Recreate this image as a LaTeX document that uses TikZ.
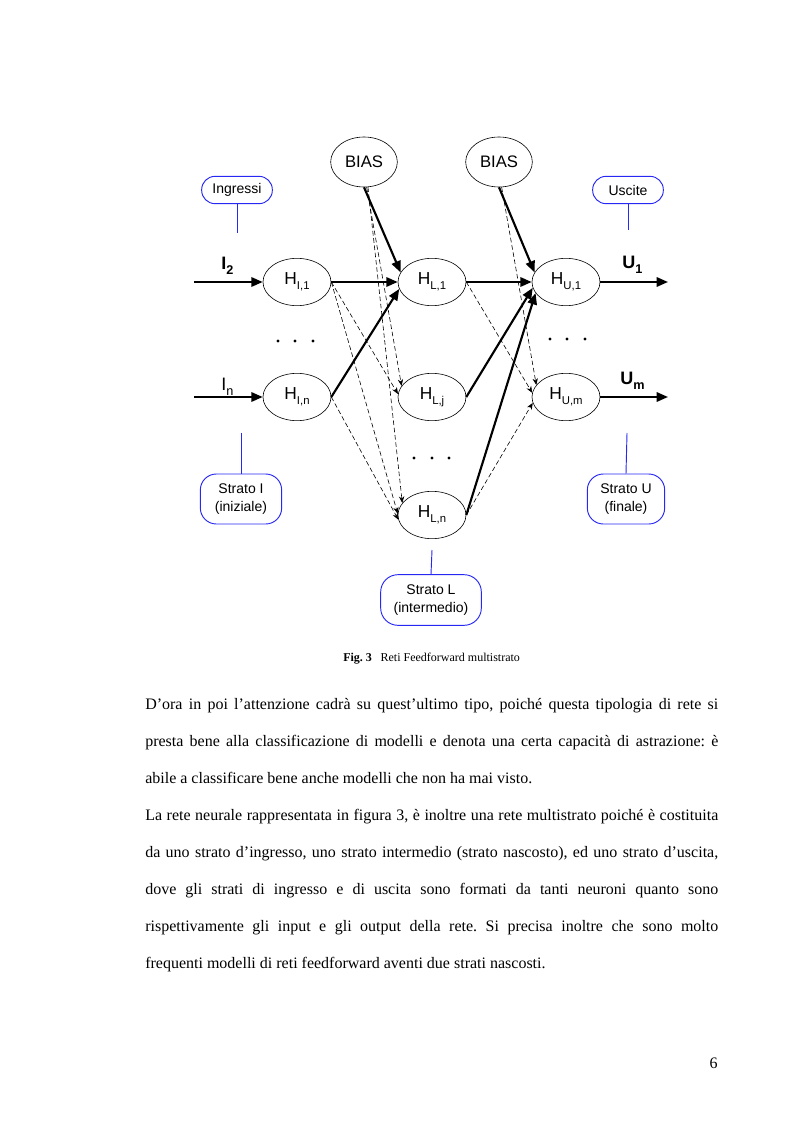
\documentclass[tikz,border=0pt]{standalone}
\usepackage{fontspec}
\setmainfont{Liberation Serif}
\setsansfont{Liberation Sans}
\usetikzlibrary{arrows.meta,shapes.geometric}
\definecolor{lblue}{RGB}{40,40,245}
\frenchspacing
\newcommand\hsub[1]{\raisebox{-0.55ex}{\fontsize{8.5}{8.5}\selectfont #1}}
\newcommand\bodyline[1]{\makebox[429.75pt][s]{#1}}
\begin{document}
\begin{tikzpicture}[x=0.75pt,y=-0.75pt,
 neuron/.style={draw,ellipse,line width=0.45pt,minimum width=51pt,minimum height=35.5pt,inner sep=0pt,font=\sffamily\fontsize{13}{14}\selectfont},
 biasnode/.style={neuron,minimum width=50pt,minimum height=37.5pt,font=\sffamily\fontsize{12.5}{14}\selectfont},
 tag/.style={draw=lblue,line width=0.7pt,align=center,inner sep=0pt,font=\sffamily\fontsize{10.5}{13}\selectfont},
 tagline/.style={draw=lblue,line width=0.7pt},
 strong/.style={line width=1.6pt,-{Triangle[length=8.5pt,width=7pt]}},
 weak/.style={line width=0.45pt,dash pattern=on 3.5pt off 2pt,-{Stealth[length=5pt,width=4pt]}},
 iolbl/.style={font=\sffamily\fontsize{13.5}{14}\selectfont,inner sep=0pt,anchor=base west},
 body/.style={font=\fontsize{12}{14}\selectfont,inner sep=0pt,anchor=base west},
]
\path[use as bounding box,fill=white] (0,0) rectangle (793,1123);

% neurons
\node[neuron] (hi1) at (297,282) {H\hsub{I,1}};
\node[neuron] (hin) at (297,397) {H\hsub{I,n}};
\node[neuron] (hl1) at (432,282) {H\hsub{L,1}};
\node[neuron] (hlj) at (432,397) {H\hsub{L,j}};
\node[neuron] (hln) at (432,515) {H\hsub{L,n}};
\node[neuron] (hu1) at (566,282) {H\hsub{U,1}};
\node[neuron] (hum) at (566,397) {H\hsub{U,m}};
\node[biasnode] (bias1) at (364,162) {BIAS};
\node[biasnode] (bias2) at (499,162) {BIAS};

% dots
\foreach \x in {278,295,313} \fill (\x,341) circle (1.3pt);
\foreach \x in {550,567,585} \fill (\x,339) circle (1.3pt);
\foreach \x in {414,432,449} \fill (\x,458) circle (1.3pt);

% labels of inputs / outputs
\node[iolbl] (li2) at (221,269) {\textbf{I}\raisebox{-0.55ex}{\fontsize{9.5}{10}\selectfont\bfseries 2}};
\node[iolbl] (lin) at (221,390) {I\raisebox{-0.55ex}{\fontsize{9.5}{10}\selectfont n}};
\node[iolbl] (lu1) at (622,268) {\textbf{U}\raisebox{-0.55ex}{\fontsize{9.5}{10}\selectfont\bfseries 1}};
\node[iolbl] (lum) at (620,384) {\textbf{U}\raisebox{-0.55ex}{\fontsize{9.5}{10}\selectfont\bfseries m}};

% blue tags
\node[tag,minimum width=53pt,minimum height=20.5pt,rounded corners=10pt] (ingr) at (237,190) {Ingressi};
\node[tag,minimum width=53pt,minimum height=20.5pt,rounded corners=10pt] (usc) at (628,190) {Uscite};
\node[tag,minimum width=61pt,minimum height=37.5pt,rounded corners=12pt] (sti) at (241,499) {Strato I\\(iniziale)};
\node[tag,minimum width=58pt,minimum height=37.5pt,rounded corners=12pt] (stu) at (626,499) {Strato U\\(finale)};
\node[tag,minimum width=75.5pt,minimum height=38pt,rounded corners=13pt] (stl) at (431,600) {Strato L\\(intermedio)};
\coordinate (ingrE) at (237,233);
\coordinate (uscE) at (628,230);
\coordinate (stiE) at (241,433);
\coordinate (stuE) at (627,433);
\coordinate (stlE) at (432,550);
\draw[tagline] (ingr.south) -- (ingrE);
\draw[tagline] (usc.south) -- (uscE);
\draw[tagline] (sti.north) -- (stiE);
\draw[tagline] (stu.north) -- (stuE);
\draw[tagline] (stl.north) -- (stlE);

% free ends of input/output arrows
\coordinate (in2) at (194,282);
\coordinate (inn) at (194,397);
\coordinate (out1) at (668,282);
\coordinate (outm) at (668,397);

% connectors
\draw[strong] (in2) -- (hi1.west);
\draw[strong] (inn) -- (hin.west);
\draw[strong] (hi1.east) -- (hl1.west);
\draw[strong] (hin.east) -- (hl1.192);
\draw[strong] (bias1.south) -- (hl1.163);
\draw[weak] (hi1.east) -- (hlj.175);
\draw[weak] (hi1.east) -- (hln.178);
\draw[weak] (hin.east) -- (hln.188);
\draw[weak] (bias1.276) -- (hlj.160);
\draw[weak] (bias1.279) -- (hln.158);

\draw[strong] (hl1.east) -- (hu1.west);
\draw[strong] (hlj.east) -- (hu1.190);
\draw[strong] (hln.east) -- (hu1.200);
\draw[strong] (bias2.south) -- (hu1.163);
\draw[weak] (hl1.east) -- (hum.173);
\draw[weak] (hln.east) -- (hum.190);
\draw[weak] (bias2.276) -- (hum.158);
\draw[strong] (hu1.east) -- (out1);
\draw[strong] (hum.east) -- (outm);

% caption
\node[anchor=base west,inner sep=0pt,font=\fontsize{9}{11}\selectfont] (cap) at (343,661) {\textbf{Fig. 3}\hspace{6.5pt}Reti Feedforward multistrato};

% body text
\node[body] (l1) at (145,709) {\bodyline{D’ora in poi l’attenzione cadrà su quest’ultimo tipo, poiché questa tipologia di rete si}};
\node[body] (l2) at (145,746) {\bodyline{presta bene alla classificazione di modelli e denota una certa capacità di astrazione: è}};
\node[body] (l3) at (145,783) {abile a classificare bene anche modelli che non ha mai visto.};
\node[body] (l4) at (145,820) {\bodyline{La rete neurale rappresentata in figura 3, è inoltre una rete multistrato poiché è costituita}};
\node[body] (l5) at (145,857) {\bodyline{da uno strato d’ingresso, uno strato intermedio (strato nascosto), ed uno strato d’uscita,}};
\node[body] (l6) at (145,894) {\bodyline{dove gli strati di ingresso e di uscita sono formati da tanti neuroni quanto sono}};
\node[body] (l7) at (145,931) {\bodyline{rispettivamente gli input e gli output della rete. Si precisa inoltre che sono molto}};
\node[body] (l8) at (145,968) {frequenti modelli di reti feedforward aventi due strati nascosti.};

% page number
\node[anchor=base east,inner sep=0pt,font=\fontsize{12}{14}\selectfont] (pg) at (718,1068) {6};
\end{tikzpicture}
\end{document}
